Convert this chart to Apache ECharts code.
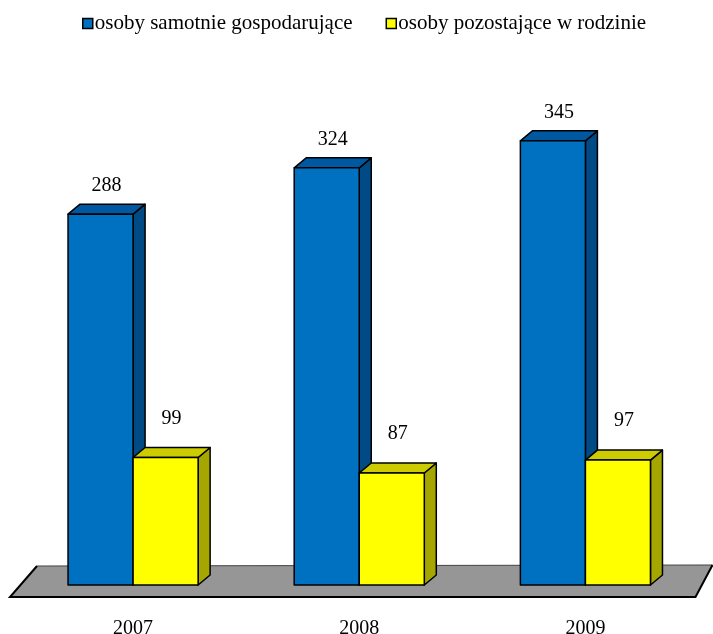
<!DOCTYPE html>
<html>
<head>
<meta charset="utf-8">
<script src="https://cdn.jsdelivr.net/npm/echarts@6/dist/echarts.min.js"></script>
<style>html,body{margin:0;padding:0;background:#fff;}#c{width:713px;height:634px;}</style>
</head>
<body>
<div id="c"></div>
<script>
var categories = ['2007', '2008', '2009'];
var seriesNames = ['osoby samotnie gospodarujące', 'osoby pozostające w rodzinie'];
var samotnie = [288, 324, 345];
var rodzinie = [99, 87, 97];

var FONT = '"Liberation Serif", "Times New Roman", serif';
var DX = 12, DY = 10;
var palettes = [
  {front: '#0070C0', top: '#0059A0', side: '#004A86', labelGap: 18},
  {front: '#FFFF00', top: '#CCCC00', side: '#A6A600', labelGap: 29}
];

function makeRender(si) {
  return function (params, api) {
    var cat = api.value(0), val = api.value(1);
    var top = api.coord([cat, val]);
    var base = api.coord([cat, 0]);
    var band = api.size([1, 0])[0];
    var bw = band * 0.2876;
    var x0 = si === 0 ? top[0] - bw : top[0];
    var y1 = top[1], yb = base[1];
    var p = palettes[si];
    var stroke = {stroke: '#000', lineWidth: 1.5, lineJoin: 'round'};
    return {
      type: 'group',
      children: [
        {type: 'polygon', shape: {points: [[x0 + bw, y1], [x0 + bw + DX, y1 - DY], [x0 + bw + DX, yb - DY], [x0 + bw, yb]]},
          style: Object.assign({fill: p.side}, stroke)},
        {type: 'polygon', shape: {points: [[x0, y1], [x0 + DX, y1 - DY], [x0 + bw + DX, y1 - DY], [x0 + bw, y1]]},
          style: Object.assign({fill: p.top}, stroke)},
        {type: 'rect', shape: {x: x0, y: y1, width: bw, height: yb - y1},
          style: Object.assign({fill: p.front}, stroke)},
        {type: 'text', x: x0 + bw / 2 + DX / 2, y: y1 - DY - p.labelGap,
          style: {text: String(val), fill: '#000', font: '20px ' + FONT, align: 'center', verticalAlign: 'middle'}}
      ]
    };
  };
}

function floorRender(params, api) {
  var cs = params.coordSys;
  var l = cs.x, r = cs.x + cs.width, b = cs.y + cs.height;
  var tl = [l + 17, b - 19], tr = [r + 14, b - 20], br = [r - 3, b + 12], bl = [l - 10, b + 12];
  return {
    type: 'group',
    children: [
      {type: 'polygon', shape: {points: [tl, tr, br, bl]}, style: {fill: '#969696'}},
      {type: 'polyline', shape: {points: [tl, tr]}, style: {stroke: '#444', lineWidth: 1.2, fill: null}},
      {type: 'polyline', shape: {points: [tl, bl, br, tr]}, style: {stroke: '#000', lineWidth: 2, fill: null}}
    ]
  };
}

function toData(arr) { return arr.map(function (v, i) { return [i, v]; }); }

var chart = echarts.init(document.getElementById('c'), null, {renderer: 'canvas'});
chart.setOption({
  animation: false,
  backgroundColor: '#fff',
  legend: {
    data: seriesNames,
    top: 8, left: 77,
    itemWidth: 10, itemHeight: 10, itemGap: 33,
    icon: 'rect',
    textStyle: {fontFamily: FONT, fontSize: 21, color: '#000', padding: [0, 0, 0, -3]},
    itemStyle: {borderColor: '#000', borderWidth: 1.5}
  },
  grid: {left: 20, right: 14.5, top: 70, bottom: 49, outerBoundsMode: 'none', containLabel: false},
  xAxis: {
    type: 'category', data: categories,
    axisLine: {show: false}, axisTick: {show: false},
    axisLabel: {fontFamily: FONT, fontSize: 20, color: '#000', margin: 34}
  },
  yAxis: {type: 'value', min: 0, max: 400, show: false},
  series: [
    {type: 'custom', name: 'floor', renderItem: floorRender, data: [[0, 0]], z: 1, silent: true},
    {type: 'custom', name: seriesNames[0], renderItem: makeRender(0), data: toData(samotnie),
      itemStyle: {color: palettes[0].front, borderColor: '#000'}, encode: {x: 0, y: 1}, z: 2},
    {type: 'custom', name: seriesNames[1], renderItem: makeRender(1), data: toData(rodzinie),
      itemStyle: {color: palettes[1].front, borderColor: '#000'}, encode: {x: 0, y: 1}, z: 2}
  ]
});
</script>
</body>
</html>
